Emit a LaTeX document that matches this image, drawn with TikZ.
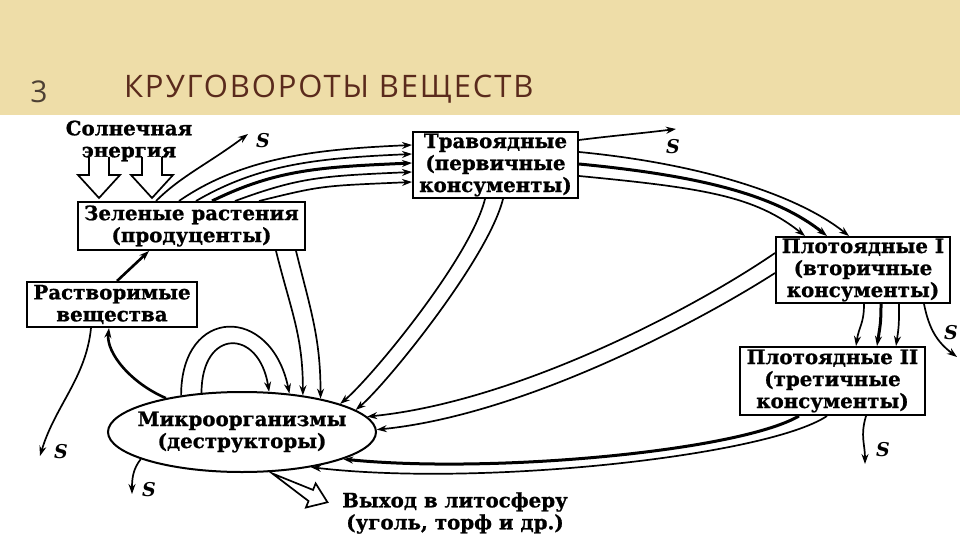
\documentclass[tikz,border=0pt]{standalone}
\usepackage{fontspec}
\setmainfont{DejaVu Serif}[BoldFeatures={FakeBold=1}]
\newfontfamily\titlefont{Open Sans}[LetterSpace=6]
\usetikzlibrary{calc,arrows.meta,positioning,shapes.geometric}
\definecolor{paperTan}{HTML}{EEDDA8}
\definecolor{titleBrown}{HTML}{5A2A1C}
\definecolor{numGray}{HTML}{4D4034}

\begin{document}
\begin{tikzpicture}[x=1pt,y=-1pt,line width=1.7pt,
    >={Stealth[length=10pt,width=7pt]},
    levelbox/.style={draw,line width=2pt,align=center,inner sep=0pt,
      font=\bfseries\fontsize{19.8}{22}\selectfont},
    plain/.style={align=center,inner sep=0pt,font=\bfseries\fontsize{19.8}{22}\selectfont},
    loss/.style={inner sep=1pt,font=\bfseries\itshape\fontsize{19}{19}\selectfont},
    flow/.style={->},
    heavy/.style={->,line width=3pt},
    hollow/.style={line width=1.7pt,fill=white,line join=miter}]
  \useasboundingbox (0,0) rectangle (960,540);
  \fill[white] (0,0) rectangle (960,540);
  \fill[paperTan] (0,0) rectangle (960,115);
  \node[numGray,font=\titlefont\fontsize{30}{30}\selectfont] (num) at (39,92) {3};
  \node[titleBrown,font=\titlefont\fontsize{31}{31}\selectfont,anchor=base west] (title) at (120,98) {КРУГОВОРОТЫ ВЕЩЕСТВ};

  \node[plain] (sun) at (129,141) {Солнечная\\энергия};
  \node[levelbox,minimum width=227pt,minimum height=48pt] (plants) at (191.5,226) {Зеленые растения\\(продуценты)};
  \node[levelbox,minimum width=165pt,minimum height=66pt] (herb) at (495.5,165) {Травоядные\\(первичные\\консументы)};
  \node[levelbox,minimum width=174pt,minimum height=66pt] (carn1) at (863,270) {Плотоядные I\\(вторичные\\консументы)};
  \node[levelbox,minimum width=185pt,minimum height=68pt] (carn2) at (832.5,381) {Плотоядные II\\(третичные\\консументы)};
  \node[levelbox,minimum width=170pt,minimum height=45pt] (solub) at (112,304.5) {Растворимые\\вещества};
  \node[draw,ellipse,line width=2pt,minimum width=268pt,minimum height=80pt] (microbes) at (242,432) {};
  \node[plain] (microbesText) at (microbes) {Микроорганизмы\\(деструкторы)};
  \node[plain] (exit) at (455,513) {Выход в литосферу\\(уголь, торф и др.)};

  \coordinate (sPlantsEnd) at (248,134);
  \coordinate (sHerbEnd) at (676,129);
  \coordinate (sCarnIEnd) at (957,357);
  \coordinate (sCarnIIEnd) at (865,464);
  \coordinate (sSolubEnd) at (40,456);
  \coordinate (sMicEnd) at (132,494);
  \node[loss] (sPlants) at (263,141) {S};
  \node[loss] (sHerb) at (673,147) {S};
  \node[loss] (sCarnI) at (951,333) {S};
  \node[loss] (sCarnII) at (883,450) {S};
  \node[loss] (sSolub) at (61,452) {S};
  \node[loss] (sMic) at (149,490) {S};

  \foreach \cx in {22,75}
    \draw[hollow] ($(plants.north west)+(\cx-10,-44)$) -- ++(0,18) -- ++(-11,0) -- ++(21,23) -- ++(21,-23) -- ++(-11,0) -- ++(0,-18);
  \draw[hollow,shift={($(microbes.south)+(28,6)$)},rotate=-22] (0,-6) -- (44,-6) -- (44,-13) -- (62,0) -- (44,13) -- (44,6) -- cycle;

  \foreach \sx/\ey/\cy/\w in {102/-20/-45/1.7, 119/-11/-38/1.7, 135/-2/-32/3, 158/7/-24/1.7, 182/17/-16/1.7}
    \draw[flow,line width=\w pt] ($(plants.north west)+(\sx,0)$) .. controls +(65,\cy) and +(-90,4) .. ($(herb.west)+(0,\ey)$);
  \draw[flow] ($(plants.north west)+(79,0)$) .. controls +(25,-25) and +(-40,30) .. (sPlantsEnd);
  \draw[flow] ($(herb.east)+(0,-25)$) .. controls +(40,-5) and +(-40,5) .. (sHerbEnd);
  \foreach \sy/\ex/\w in {-13/74/1.7, -1/52/3, 11/30/1.7}
    \draw[flow,line width=\w pt] ($(herb.east)+(0,\sy)$) .. controls +(125,12) and +(-50,-40) .. ($(carn1.north west)+(\ex,0)$);
  \draw[flow] ($(herb.south west)+(73,0)$) .. controls +(-15,60) and +(30,-25) .. (microbes.16);
  \draw[flow] ($(herb.south west)+(91,0)$) .. controls +(-15,60) and +(30,-25) .. (microbes.11);
  \draw[flow] ($(plants.south west)+(199,0)$) .. controls +(15,60) and +(0,-60) .. (microbes.31);
  \draw[flow] ($(plants.south west)+(219,0)$) .. controls +(15,60) and +(0,-60) .. (microbes.23);
  \draw[flow] (microbes.149) .. controls +(0,-90) and +(-18,-89) .. (microbes.39);
  \draw[flow] (microbes.136) .. controls +(0,-65) and +(-10,-64) .. (microbes.56);
  \draw[->,line width=2.6pt] (microbes.156) .. controls +(-35,-15) and +(-3,25) .. ($(solub.south west)+(83,0)$);
  \draw[->,line width=2.6pt] ($(solub.north west)+(91,0)$) -- ($(plants.south west)+(72,0)$);
  \draw[flow] ($(solub.south west)+(65,0)$) .. controls +(-5,50) and +(15,-50) .. (sSolubEnd);
  \draw[flow] (microbes.195) .. controls +(-8,10) and +(0,-15) .. (sMicEnd);
  \draw[flow] ($(carn1.west)+(0,-17)$) .. controls +(-80,55) and +(150,-15) .. (microbes.7);
  \draw[flow] ($(carn1.west)+(0,3)$) .. controls +(-70,45) and +(150,-15) .. (microbes.1);
  \draw[heavy] ($(carn2.south west)+(60,0)$) .. controls +(-60,35) and +(150,15) .. (microbes.345);
  \draw[flow] ($(carn2.south west)+(88,0)$) .. controls +(-60,40) and +(170,20) .. (microbes.333);
  \foreach \sx/\ex/\w in {89/117/1.7, 106/138/3, 124/157/1.7}
    \draw[flow,line width=\w pt] ($(carn1.south west)+(\sx,0)$) .. controls +(0,20) and +(3,-20) .. ($(carn2.north west)+(\ex,0)$);
  \draw[flow] ($(carn1.south east)+(-27,0)$) .. controls +(5,25) and +(-20,-15) .. (sCarnIEnd);
  \draw[flow] ($(carn2.south west)+(127,0)$) .. controls +(-6,20) and +(0,-20) .. (sCarnIIEnd);
\end{tikzpicture}
\end{document}
